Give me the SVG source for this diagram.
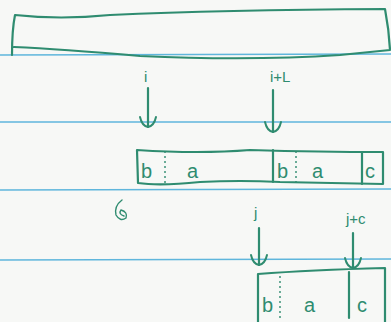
<svg xmlns="http://www.w3.org/2000/svg" width="391" height="322" viewBox="0 0 391 322">
  <defs>
    <style>
      .paper { fill: #f7f8f6; }
      .rule { stroke: #5fb6dc; stroke-width: 1.3; fill: none; }
      .ink { stroke: #2f8c70; stroke-width: 2.2; fill: none; stroke-linecap: round; stroke-linejoin: round; }
      .thin { stroke: #2f8c70; stroke-width: 1.4; fill: none; stroke-linecap: round; }
      .dot { stroke: #2f8c70; stroke-width: 1.4; fill: none; stroke-dasharray: 2 3; }
      .lbl { font-family: "Liberation Sans", "DejaVu Sans", sans-serif; fill: #2f8c70; font-size: 20px; }
      .sm { font-family: "Liberation Sans", "DejaVu Sans", sans-serif; fill: #2f8c70; font-size: 15px; }
    </style>
    <marker id="hook" viewBox="-12 -10 16 20" markerWidth="16" markerHeight="20" refX="0" refY="0" orient="auto" markerUnits="userSpaceOnUse" overflow="visible">
      <path d="M -10 -8 Q -1 -6 0 0 Q -1 6 -10 8" stroke="#2f8c70" stroke-width="2" fill="none" stroke-linecap="round"/>
    </marker>
  </defs>

  <rect class="paper" x="0" y="0" width="391" height="322"/>
  <g id="paper-rules">
    <path class="rule" d="M0 55 L391 54"/>
    <path class="rule" d="M0 122 L391 122"/>
    <path class="rule" d="M0 190 L391 189"/>
    <path class="rule" d="M0 260 L391 259"/>
  </g>

  <g id="top-array">
    <path class="ink" d="M12 55 Q12 30 15 15 Q60 20 110 15 Q220 10 385 9 Q389 30 390 50 Q370 52 340 55 Q250 61 140 56 Q60 49 14 47"/>
  </g>

  <g id="mid-array">
    <path class="ink" d="M137 150 Q200 154 250 150 Q320 152 383 152 L383 184 Q330 183 280 182 Q240 180 200 182 Q160 186 138 183 Z"/>
    <path class="dot" d="M165 151 L165 183"/>
    <path class="ink" d="M273 150 L273 182"/>
    <path class="dot" d="M296 151 L296 182"/>
    <path class="ink" d="M362 152 L362 184"/>
    <text class="lbl" x="141" y="178">b</text>
    <text class="lbl" x="187" y="178">a</text>
    <text class="lbl" x="277" y="178">b</text>
    <text class="lbl" x="312" y="178">a</text>
    <text class="lbl" x="365" y="178">c</text>
  </g>

  <g id="bottom-array">
    <path class="ink" d="M258 322 L258 274 Q310 270 385 268 L385 322"/>
    <path class="dot" d="M280 276 L280 318"/>
    <path class="ink" d="M349 272 L349 318"/>
    <text class="lbl" x="262" y="312">b</text>
    <text class="lbl" x="304" y="312">a</text>
    <text class="lbl" x="357" y="312">c</text>
  </g>

  <g id="connectors">
    <path class="ink" d="M148 88 L148 127" marker-end="url(#hook)"/>
    <path class="ink" d="M273 90 L273 132" marker-end="url(#hook)"/>
    <path class="ink" d="M259 228 L259 265" marker-end="url(#hook)"/>
    <path class="ink" d="M353 233 L353 268" marker-end="url(#hook)"/>
  </g>

  <g id="labels">
    <text class="sm" x="144" y="82">i</text>
    <text class="sm" x="270" y="82">i+L</text>
    <text class="sm" x="254" y="218">j</text>
    <text class="sm" x="346" y="224">j+c</text>
  </g>

  <g id="blot">
    <path class="thin" d="M122 200 Q114 206 116 215 Q120 222 126 218 Q128 212 121 210 Q118 214 124 216"/>
  </g>
</svg>
